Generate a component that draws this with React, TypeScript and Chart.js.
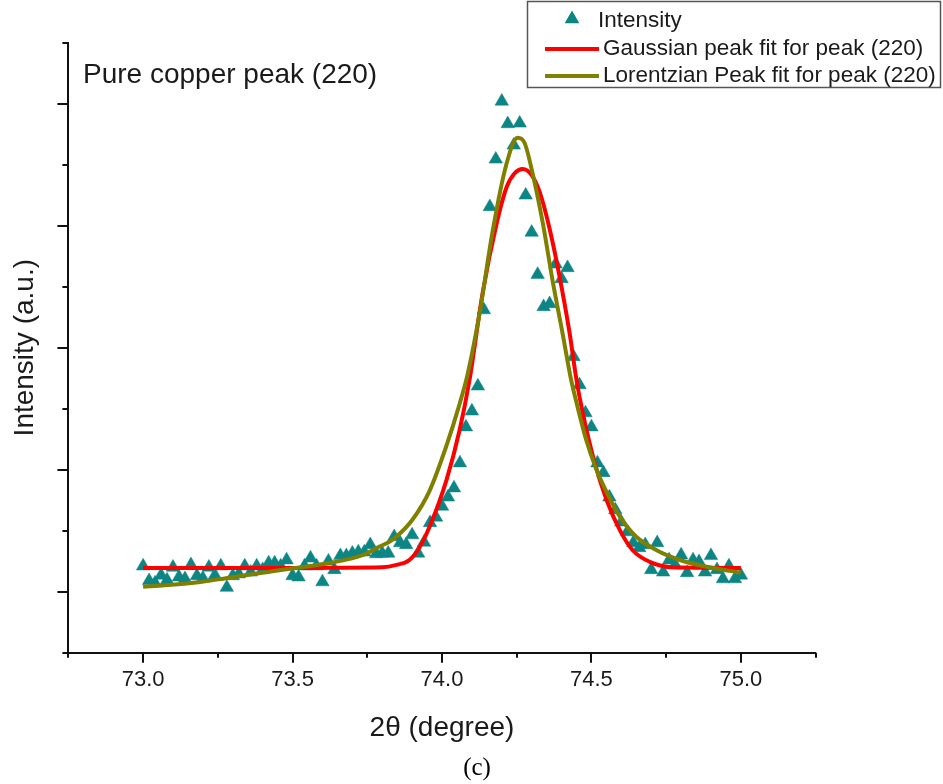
import React, { useEffect, useRef } from 'react';
import { Chart, registerables } from 'chart.js';

Chart.register(...registerables);

const SANS = '"Liberation Sans", Arial, sans-serif';
const SERIF = '"Liberation Serif", "Times New Roman", serif';

// Measured points: 2θ (degree)
const twoTheta = [
  73.00, 73.02, 73.04, 73.06, 73.08, 73.10, 73.12, 73.14, 73.16, 73.18,
  73.20, 73.22, 73.24, 73.26, 73.28, 73.30, 73.32, 73.34, 73.36, 73.38,
  73.40, 73.42, 73.44, 73.46, 73.48, 73.50, 73.52, 73.54, 73.56, 73.58,
  73.60, 73.62, 73.64, 73.66, 73.68, 73.70, 73.72, 73.74, 73.76, 73.78,
  73.80, 73.82, 73.84, 73.86, 73.88, 73.90, 73.92, 73.94, 73.96, 73.98,
  74.00, 74.02, 74.04, 74.06, 74.08, 74.10, 74.12, 74.14, 74.16, 74.18,
  74.20, 74.22, 74.24, 74.26, 74.28, 74.30, 74.32, 74.34, 74.36, 74.38,
  74.40, 74.42, 74.44, 74.46, 74.48, 74.50, 74.52, 74.54, 74.56, 74.58,
  74.60, 74.62, 74.64, 74.66, 74.68, 74.70, 74.72, 74.74, 74.76, 74.78,
  74.80, 74.82, 74.84, 74.86, 74.88, 74.90, 74.92, 74.94, 74.96, 74.98,
  75.00,
];

// Measured intensity (a.u.)
const intensity = [
  142, 118, 114, 127, 119, 140, 124, 121, 144, 126,
  122, 140, 127, 142, 107, 126, 129, 142, 132, 142,
  136, 147, 147, 142, 152, 126, 124, 142, 155, 142,
  116, 150, 136, 159, 159, 163, 165, 165, 177, 162,
  163, 163, 190, 180, 177, 193, 163, 181, 213, 222,
  240, 255, 270, 311, 370, 396, 437, 562, 731, 809,
  904, 867, 832, 868, 750, 689, 620, 567, 572, 637,
  613, 631, 485, 439, 393, 370, 311, 295, 255, 234,
  214, 198, 180, 172, 177, 136, 180, 132, 152, 144,
  160, 131, 152, 149, 132, 159, 136, 121, 142, 121,
  127,
];

// Gaussian fit curve
const gaussX = [
  73.00, 73.50, 73.80, 73.848, 73.891, 73.925, 73.958, 74.015, 74.059, 74.092,
  74.136, 74.183, 74.216, 74.243, 74.27, 74.30, 74.327, 74.36, 74.394, 74.427,
  74.45, 74.471, 74.511, 74.551, 74.595, 74.638, 74.695, 74.772, 75.00,
];
const gaussY = [
  139, 139, 140, 144, 152, 173, 206, 283, 365, 447,
  590, 704, 763, 786, 793, 783, 755, 695, 615, 524,
  447, 393, 311, 250, 201, 168, 149, 140, 139,
];

// Lorentzian fit curve
const lorentzX = [
  73.00, 73.177, 73.288, 73.399, 73.511, 73.623, 73.734, 73.791, 73.824, 73.847,
  73.901, 73.958, 74.014, 74.059, 74.085, 74.126, 74.169, 74.215, 74.253, 74.276,
  74.303, 74.337, 74.37, 74.404, 74.43, 74.45, 74.483, 74.517, 74.55, 74.595,
  74.65, 74.718, 74.796, 74.885, 75.00,
];
const lorentzY = [
  108, 115, 123, 131, 139, 147, 160, 174, 182, 190,
  218, 265, 338, 408, 455, 557, 690, 800, 844, 836,
  786, 705, 610, 522, 452, 410, 348, 300, 264, 223,
  190, 168, 152, 141, 131,
];

const xTickLabels = ['73.0', '73.5', '74.0', '74.5', '75.0'];
const seriesLabels = [
  'Intensity',
  'Gaussian peak fit for peak (220)',
  'Lorentzian Peak fit for peak (220)',
];
const annotationText = 'Pure copper peak (220)';
const xTitle = '2θ (degree)';
const yTitle = 'Intensity (a.u.)';
const caption = '(c)';

const TEXT = '#1a1a1a';
const POINT = '#0e8585';
const RED = '#ff0000';
const OLIVE = '#808000';

const isHalf = (v: number) => Math.abs(v * 2 - Math.round(v * 2)) < 1e-6;

const axisTicks = {
  id: 'axisTicks',
  afterDraw(chart: any) {
    const { ctx } = chart;
    const xs = chart.scales.x;
    const ys = chart.scales.y;
    ctx.save();
    ctx.strokeStyle = '#111';
    ctx.lineWidth = 2;
    ctx.beginPath();
    xs.ticks.forEach((t: any) => {
      const px = Math.round(xs.getPixelForValue(t.value));
      const len = isHalf(t.value) ? 10 : 5;
      ctx.moveTo(px, xs.top);
      ctx.lineTo(px, xs.top + len);
    });
    ys.ticks.forEach((t: any) => {
      const py = Math.round(ys.getPixelForValue(t.value));
      const major = Math.round(t.value / 100) % 2 === 1;
      const len = major ? 11 : 6;
      ctx.moveTo(ys.right, py);
      ctx.lineTo(ys.right - len, py);
    });
    ctx.stroke();
    ctx.restore();
  },
};

const decorations = {
  id: 'decorations',
  afterDraw(chart: any) {
    const { ctx } = chart;
    const ds = chart.data.datasets;
    ctx.save();
    // annotation
    ctx.fillStyle = TEXT;
    ctx.font = `28px ${SANS}`;
    ctx.textAlign = 'left';
    ctx.textBaseline = 'middle';
    ctx.fillText(annotationText, 83, 75);

    // legend box
    ctx.strokeStyle = '#555';
    ctx.lineWidth = 1.5;
    ctx.strokeRect(527.5, 1.5, 413, 86);

    ctx.font = `22.5px ${SANS}`;
    // marker row
    ctx.fillStyle = ds[0].backgroundColor;
    const cx = 572, cy = 19, r = 8.5;
    ctx.beginPath();
    ctx.moveTo(cx, cy - r);
    ctx.lineTo(cx + r * 0.866, cy + r * 0.5);
    ctx.lineTo(cx - r * 0.866, cy + r * 0.5);
    ctx.closePath();
    ctx.fill();
    ctx.fillStyle = TEXT;
    ctx.fillText(ds[0].label, 598, 21);

    const rows = [ds[1], ds[2]];
    rows.forEach((d: any, i: number) => {
      const y = 49 + i * 27;
      ctx.strokeStyle = d.borderColor;
      ctx.lineWidth = 4;
      ctx.beginPath();
      ctx.moveTo(545, y);
      ctx.lineTo(599, y);
      ctx.stroke();
      ctx.fillStyle = TEXT;
      ctx.fillText(d.label, 603, y);
    });

    // caption
    ctx.font = `25px ${SERIF}`;
    ctx.textAlign = 'center';
    ctx.fillStyle = '#000';
    ctx.fillText(caption, 477, 768);
    ctx.restore();
  },
};

export default function App() {
  const ref = useRef<HTMLCanvasElement | null>(null);

  useEffect(() => {
    document.body.style.margin = '0';
    const canvas = ref.current;
    if (!canvas) return;
    const chart = new Chart(canvas, {
      type: 'scatter',
      data: {
        datasets: [
          {
            label: seriesLabels[0],
            data: twoTheta.map((x, i) => ({ x, y: intensity[i] })),
            pointStyle: 'triangle',
            pointRadius: 7.8,
            pointHoverRadius: 7.8,
            backgroundColor: POINT,
            borderColor: POINT,
            pointBorderWidth: 0.5,
            showLine: false,
            order: 3,
          },
          {
            label: seriesLabels[1],
            data: gaussX.map((x, i) => ({ x, y: gaussY[i] })),
            showLine: true,
            borderColor: RED,
            backgroundColor: RED,
            borderWidth: 4,
            pointRadius: 0,
            cubicInterpolationMode: 'monotone',
            order: 2,
          },
          {
            label: seriesLabels[2],
            data: lorentzX.map((x, i) => ({ x, y: lorentzY[i] })),
            showLine: true,
            borderColor: OLIVE,
            backgroundColor: OLIVE,
            borderWidth: 4,
            pointRadius: 0,
            cubicInterpolationMode: 'monotone',
            order: 1,
          },
        ],
      },
      options: {
        responsive: false,
        animation: false,
        layout: { padding: { top: 42.7, right: 127.4, bottom: 37.4, left: 0 } },
        plugins: {
          legend: { display: false },
          tooltip: { enabled: false },
        },
        scales: {
          x: {
            type: 'linear',
            min: 72.75,
            max: 75.25,
            afterFit: (s: any) => { s.height = 93.9; },
            grid: { display: false, drawTicks: false },
            border: { display: true, color: '#111', width: 2 },
            ticks: {
              stepSize: 0.25,
              autoSkip: false,
              maxRotation: 0,
              padding: 14,
              color: TEXT,
              font: { family: SANS, size: 22 },
              callback: (v: any) => {
                const n = Number(v);
                const s = n.toFixed(1);
                return isHalf(n) && xTickLabels.includes(s) ? s : '';
              },
            },
            title: {
              display: true,
              text: xTitle,
              color: TEXT,
              font: { family: SANS, size: 28 },
              padding: { top: 4, bottom: 2 },
            },
          },
          y: {
            type: 'linear',
            min: 0,
            max: 1000,
            afterFit: (s: any) => { s.width = 68.4; },
            grid: { display: false, drawTicks: false },
            border: { display: true, color: '#111', width: 2 },
            ticks: { stepSize: 100, display: false },
            title: {
              display: true,
              text: yTitle,
              color: TEXT,
              font: { family: SANS, size: 28 },
              padding: { top: 8, bottom: 4 },
            },
          },
        },
      },
      plugins: [axisTicks, decorations],
    } as any);
    return () => chart.destroy();
  }, []);

  return (
    <div style={{ width: 943, height: 784, background: '#fff' }}>
      <canvas ref={ref} width={943} height={784} style={{ display: 'block' }} />
    </div>
  );
}
